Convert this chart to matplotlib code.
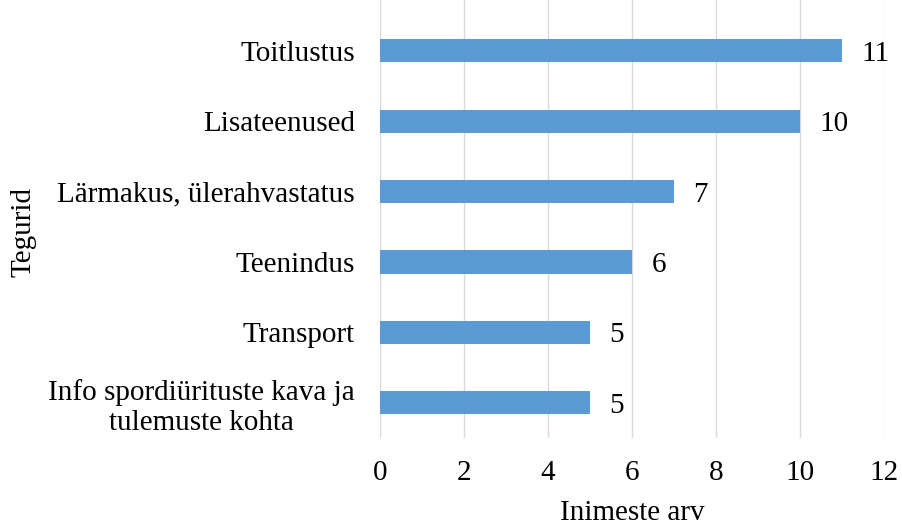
import matplotlib.pyplot as plt

plt.rcParams["font.family"] = ["Liberation Serif", "DejaVu Serif"]

categories = ["Info spordiürituste kava ja\ntulemuste kohta", "Transport", "Teenindus",
              "Lärmakus, ülerahvastatus", "Lisateenused", "Toitlustus"]
values = [5, 5, 6, 7, 10, 11]
xticks = [0, 2, 4, 6, 8, 10, 12]

fs = 21

fig = plt.figure(figsize=(9.03, 5.26), dpi=100)
ax = fig.add_axes([0.4208, 0.1673, 0.5582, 0.8327])

ypos = list(range(len(categories)))
bars = ax.barh(ypos, values, height=0.33, color="#5B9BD5", zorder=3)
for bar in bars:
    ax.annotate(f"{bar.get_width():.0f}",
                (bar.get_width(), bar.get_y() + bar.get_height() / 2),
                xytext=(14, 0), textcoords="offset points",
                ha="left", va="center_baseline", fontsize=fs)

ax.set_xlim(0, 12)
ax.set_ylim(-0.5, 5.72)
ax.set_xticks(xticks)
ax.set_yticks(ypos)
ax.set_yticklabels(categories)
for lbl in ax.get_yticklabels():
    lbl.set_multialignment("center")
    lbl.set_verticalalignment("center_baseline")
ax.tick_params(axis="both", length=0, labelsize=fs)
ax.tick_params(axis="y", pad=18)
ax.tick_params(axis="x", pad=16)
ax.grid(axis="x", color="#D9D9D9", linewidth=1, zorder=0)
for s in ax.spines.values():
    s.set_visible(False)

ax.set_xlabel("Inimeste arv", fontsize=fs, labelpad=10)
ax.set_ylabel("Tegurid", fontsize=fs)
ax.yaxis.set_label_coords(-0.682, 0.47)

fig.savefig("out.png", dpi=100)
